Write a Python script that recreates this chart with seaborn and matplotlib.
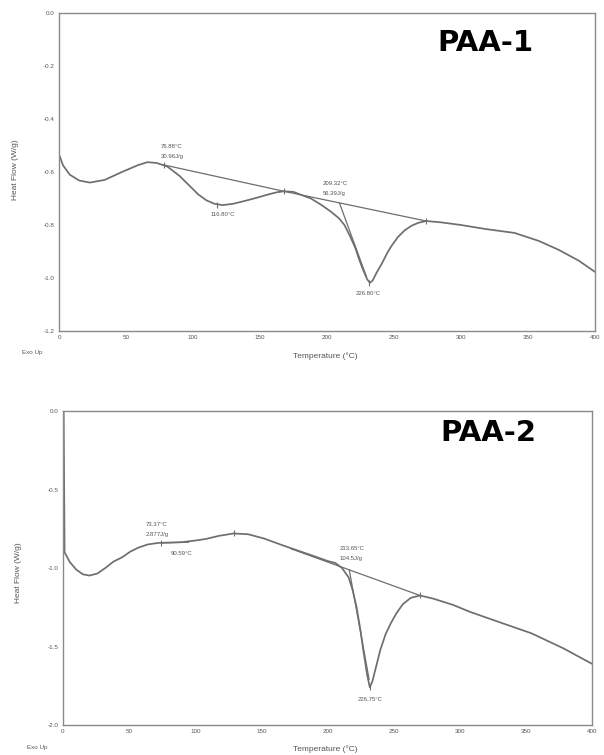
import numpy as np
import pandas as pd
import matplotlib
matplotlib.use("Agg")
import matplotlib.pyplot as plt
import seaborn as sns
from matplotlib.ticker import MultipleLocator

# ---- PAA-1 curve ----
temp1 = [0.5, 3, 8, 15, 23, 34, 47, 59, 66, 73, 81, 90, 97, 104, 110, 116, 122, 130,
         138, 147, 156, 163, 168, 175, 181, 188, 196, 203, 209, 213, 217, 221, 224,
         227, 230, 232, 234, 237, 241, 245, 248, 253, 258, 263, 268, 274, 285, 300,
         318, 340, 358, 373, 388, 400]
hf1 = [-0.54, -0.575, -0.61, -0.632, -0.64, -0.63, -0.60, -0.574, -0.563, -0.566,
       -0.58, -0.615, -0.65, -0.685, -0.707, -0.72, -0.725, -0.72, -0.71, -0.698,
       -0.685, -0.676, -0.673, -0.675, -0.687, -0.70, -0.725, -0.75, -0.775, -0.80,
       -0.84, -0.885, -0.93, -0.97, -1.005, -1.018, -1.01, -0.98, -0.945, -0.905,
       -0.88, -0.845, -0.82, -0.803, -0.792, -0.785, -0.79, -0.80, -0.815, -0.83,
       -0.86, -0.894, -0.935, -0.977]
base1_t = [78, 168, 274]
base1_hf = [-0.573, -0.673, -0.785]
tang1_t = [209.3, 229.5]
tang1_hf = [-0.717, -0.996]
mark1_t = [78, 168, 274, 118, 231]
mark1_hf = [-0.573, -0.673, -0.785, -0.725, -1.018]

# ---- PAA-2 curve ----
temp2 = [0.5, 1.2, 5, 10, 15, 20, 26, 32, 38, 45, 51, 57, 64, 72, 80, 90, 100, 108,
         118, 129, 140, 152, 165, 178, 190, 200, 206, 211, 216, 219, 222, 225, 227,
         230, 232, 234, 237, 240, 244, 248, 252, 257, 263, 270, 280, 295, 308, 330,
         354, 378, 400]
hf2 = [-0.01, -0.90, -0.96, -1.01, -1.04, -1.048, -1.035, -1.00, -0.96, -0.93,
       -0.895, -0.87, -0.85, -0.84, -0.838, -0.835, -0.825, -0.815, -0.795, -0.78,
       -0.785, -0.812, -0.852, -0.89, -0.925, -0.955, -0.968, -1.0, -1.06, -1.14,
       -1.25, -1.40, -1.52, -1.68, -1.76, -1.72, -1.62, -1.52, -1.42, -1.35, -1.29,
       -1.23, -1.19, -1.175, -1.195, -1.235, -1.28, -1.345, -1.415, -1.51, -1.61]
base2_t = [172, 270]
base2_hf = [-0.876, -1.175]
tang2_t = [216.4, 231.5]
tang2_hf = [-1.01, -1.71]
small2_t = [74, 95]
small2_hf = [-0.84, -0.836]
mark2_t = [74, 129, 270, 232]
mark2_hf = [-0.84, -0.78, -1.175, -1.76]

labels1 = [("76.88°C", 76, -0.502, "left"), ("30.96J/g", 76, -0.54, "left"),
           ("116.80°C", 122, -0.762, "center"),
           ("209.32°C", 197, -0.642, "left"), ("56.39J/g", 197, -0.68, "left"),
           ("226.80°C", 231, -1.057, "center")]
labels2 = [("73.37°C", 62.5, -0.72, "left"), ("2.877J/g", 62.5, -0.784, "left"),
           ("90.59°C", 81.5, -0.91, "left"),
           ("213.65°C", 209, -0.876, "left"), ("104.5J/g", 209, -0.94, "left"),
           ("226.75°C", 232, -1.84, "center")]

sns.set_style("white")
plt.rcParams["font.family"] = ["Liberation Sans", "DejaVu Sans"]

grey = "#6e6e6e"
fig = plt.figure(figsize=(6.04, 7.55), dpi=100)
ax1 = fig.add_axes([0.0977, 0.5616, 0.8874, 0.4212])
ax2 = fig.add_axes([0.1043, 0.0397, 0.8758, 0.4159])


def draw(ax, t, hf, bt, bhf, tt, thf, mt, mhf, labels, ylim, ymaj, ymin, fmt):
    sns.lineplot(x=t, y=hf, ax=ax, color=grey, lw=1.25, sort=False)
    sns.lineplot(x=bt, y=bhf, ax=ax, color=grey, lw=0.9, sort=False)
    sns.lineplot(x=tt, y=thf, ax=ax, color=grey, lw=0.9, sort=False)
    ax.plot(mt, mhf, ls="none", marker="|", ms=4, mew=0.8, color=grey)
    for s, x, y, ha in labels:
        ax.text(x, y, s, fontsize=4.3, color="#555555", ha=ha, va="center")
    ax.set_xlim(0, 400)
    ax.set_ylim(*ylim)
    ax.xaxis.set_major_locator(MultipleLocator(50))
    ax.xaxis.set_minor_locator(MultipleLocator(10))
    ax.yaxis.set_major_locator(MultipleLocator(ymaj))
    ax.yaxis.set_minor_locator(MultipleLocator(ymin))
    ax.set_yticks(ax.get_yticks())
    ax.set_yticklabels([fmt.format(v) if abs(v) > 1e-9 else "0.0" for v in ax.get_yticks()])
    ax.set_ylim(*ylim)
    ax.tick_params(which="major", direction="inout", length=4, width=0.8,
                   color=grey, labelsize=4.5, labelcolor="#555555", pad=1)
    ax.tick_params(which="minor", direction="inout", length=2, width=0.6, color=grey)
    for sp in ax.spines.values():
        sp.set_color("#8a8a8a")
        sp.set_linewidth(1.0)
    ax.set_xlabel("")
    ax.set_ylabel("")


draw(ax1, temp1, hf1, base1_t, base1_hf, tang1_t, tang1_hf, mark1_t, mark1_hf,
     labels1, (-1.2, 0.0), 0.2, 0.04, "{:.1f}")
draw(ax2, temp2, hf2, base2_t, base2_hf, tang2_t, tang2_hf, mark2_t, mark2_hf,
     labels2, (-2.0, 0.0), 0.5, 0.1, "{:.1f}")
sns.lineplot(x=small2_t, y=small2_hf, ax=ax2, color=grey, lw=0.9, sort=False)

txt = dict(color="#555555", fontsize=6)
fig.text(0.025, 0.775, "Heat Flow (W/g)", rotation=90, ha="center", va="center", **txt)
fig.text(0.030, 0.242, "Heat Flow (W/g)", rotation=90, ha="center", va="center", **txt)
fig.text(0.538, 0.5285, "Temperature (°C)", ha="center", va="center", **txt)
fig.text(0.538, 0.008, "Temperature (°C)", ha="center", va="center", **txt)
fig.text(0.053, 0.533, "Exo Up", ha="center", va="center", color="#555555", fontsize=4.5)
fig.text(0.061, 0.010, "Exo Up", ha="center", va="center", color="#555555", fontsize=4.5)

fig.text(0.803, 0.943, "PAA-1", ha="center", va="center", fontsize=21,
         fontweight="bold", family="DejaVu Sans", color="black")
fig.text(0.808, 0.4265, "PAA-2", ha="center", va="center", fontsize=21,
         fontweight="bold", family="DejaVu Sans", color="black")

fig.savefig("out.png", dpi=100)
